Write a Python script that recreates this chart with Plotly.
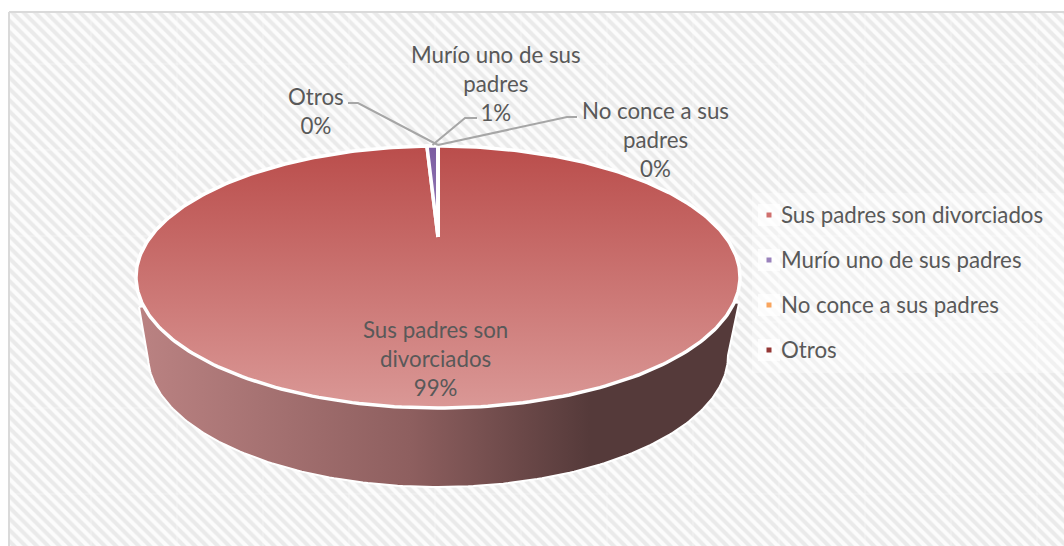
import math
import plotly.graph_objects as go

# ---- data ----
categories = ["Sus padres son divorciados", "Murío uno de sus padres", "No conce a sus padres", "Otros"]
shares = [99.2, 0.8, 0.0, 0.0]
slice_labels = ["Sus padres son<br>divorciados", "Murío uno de sus<br>padres", "No conce a sus<br>padres", "Otros"]
legend_colors = ["#D0706E", "#9A82BC", "#F9A55E", "#953735"]

W, H = 1064, 546
FONT = "Lato"
TEXT = "#595959"
FS = 22.3

# projective view of the pie disc
APEX_X, APEX_Y = 438.0, 237.0
TOP_Y, BOTTOM_Y = 146.0, 408.0
HALF_W = 302.0
up, down = APEX_Y - TOP_Y, BOTTOM_Y - APEX_Y
k = (down - up) / (down + up)
A = up * (1 + k)
B = HALF_W * math.sqrt(1 - k * k)


def project(frac):
    """frac = clockwise fraction of the circle from 12 o'clock"""
    t = 2 * math.pi * frac
    u, v = math.sin(t), math.cos(t)
    d = 1 + k * v
    return APEX_X + B * u / d, APEX_Y - A * v / d


def wedge(f0, f1):
    n = max(2, int(abs(f1 - f0) * 360))
    pts = [project(f0 + (f1 - f0) * i / n) for i in range(n + 1)]
    xs = [APEX_X] + [p[0] for p in pts] + [APEX_X]
    ys = [APEX_Y] + [p[1] for p in pts] + [APEX_Y]
    return xs, ys


fig = go.Figure()

# background panel
fig.add_trace(go.Scatter(
    x=[9, W + 5, W + 5, 9, 9], y=[12, 12, H + 5, H + 5, 12], mode="lines", fill="toself",
    line=dict(color="#DADADA", width=2), fillcolor="#F7F7F7",
    fillpattern=dict(shape="\\", size=8, solidity=0.5, fgcolor="#D8D8D8", bgcolor="#FCFCFC"),
    showlegend=False, hoverinfo="skip"))

# faint tile seams of the texture
sx, sy = [], []
for gx in range(91, W, 86):
    sx += [gx, gx, None]
    sy += [13, H, None]
for gy in range(64, H, 86):
    sx += [10, W, None]
    sy += [gy, gy, None]
fig.add_trace(go.Scatter(x=sx, y=sy, mode="lines", line=dict(color="rgba(255,255,255,0.4)", width=1),
                         showlegend=False, hoverinfo="skip"))

# pale backing of the legend
fig.add_trace(go.Scatter(x=[752, W + 5, W + 5, 752, 752], y=[193, 193, 373, 373, 193], mode="lines", fill="toself",
                         line=dict(width=0), fillcolor="rgba(255,255,255,0.35)", showlegend=False, hoverinfo="skip"))

# side wall of the pie
LOW_CX, LOW_CY, LOW_RX, LOW_RY = 438.0, 355.5, 290.0, 131.5
side_x, side_y = [], []
for i in range(0, 181):
    a = math.radians(180 - i)
    side_x.append(LOW_CX + LOW_RX * math.cos(a))
    side_y.append(LOW_CY + LOW_RY * math.sin(a))
side_x = [139] + side_x + [739]
side_y = [307] + side_y + [303]
side_x += [600, 438, 280, 139]
side_y += [280, 280, 280, 307]
fig.add_trace(go.Scatter(
    x=side_x, y=side_y, mode="lines", fill="toself",
    line=dict(color="#FFFFFF", width=2),
    fillgradient=dict(type="horizontal", start=140, stop=740,
                      colorscale=[[0, "#BA8282"], [0.45, "#8E5F5F"], [0.75, "#553A3A"], [1, "#553A3A"]]),
    showlegend=False, hoverinfo="skip"))

# top surface
fills = [dict(type="vertical", start=TOP_Y, stop=BOTTOM_Y, colorscale=[[0, "#BA4D4B"], [1, "#DA9896"]]),
         dict(type="vertical", start=TOP_Y, stop=APEX_Y, colorscale=[[0, "#7A5BA0"], [1, "#9A82BC"]]),
         None, None]
total = sum(shares)
cum = 0.0
mids = []
for i, (c, s) in enumerate(zip(categories, shares)):
    f0, f1 = cum / total, (cum + s) / total
    mids.append((f0 + f1) / 2)
    cum += s
    xs, ys = wedge(f0, f1)
    kw = dict(fill="toself", fillgradient=fills[i]) if fills[i] else {}
    fig.add_trace(go.Scatter(x=xs, y=ys, mode="lines", line=dict(color="#FFFFFF", width=3.5),
                             name=c, showlegend=False, hoverinfo="skip", **kw))

# leader lines: label side -> elbow -> slice
leaders = {1: [(477, 118), (465, 118)], 2: [(577, 117), (567, 117)], 3: [(348, 103), (358, 103)]}
for i, pts in leaders.items():
    ex, ey = project(mids[i])
    ey -= 1
    fig.add_trace(go.Scatter(x=[p[0] for p in pts] + [ex], y=[p[1] for p in pts] + [ey], mode="lines",
                             line=dict(color="#A6A6A6", width=2), showlegend=False, hoverinfo="skip"))

# slice labels
label_pos = {0: (435, 358), 1: (496, 83), 2: (655, 139.5), 3: (315.5, 110.5)}
for i, (lx, ly) in label_pos.items():
    pct = f"{round(shares[i] / total * 100)}%"
    fig.add_annotation(x=lx, y=ly, text=f"{slice_labels[i]}<br>{pct}", showarrow=False, align="center",
                       xanchor="center", yanchor="middle", font=dict(family=FONT, size=FS, color=TEXT))

# legend
legend_y = [215 + 45 * i for i in range(len(categories))]
fig.add_trace(go.Scatter(x=[769] * 4, y=legend_y, mode="markers",
                         marker=dict(symbol="square", size=22, color="rgba(255,255,255,0.7)", line=dict(width=0)),
                         showlegend=False, hoverinfo="skip"))
fig.add_trace(go.Scatter(x=[769] * 4, y=legend_y, mode="markers",
                         marker=dict(symbol="square", size=5, color=legend_colors, line=dict(width=0)),
                         showlegend=False, hoverinfo="skip"))
for c, ly in zip(categories, legend_y):
    fig.add_annotation(x=779, y=ly - 1, text=c, showarrow=False, xanchor="left", yanchor="middle",
                       font=dict(family=FONT, size=FS, color=TEXT))

fig.update_layout(
    width=W, height=H, margin=dict(l=0, r=0, t=0, b=0), showlegend=False,
    paper_bgcolor="#FFFFFF", plot_bgcolor="#FFFFFF",
    xaxis=dict(range=[0, W], visible=False, fixedrange=True),
    yaxis=dict(range=[H, 0], visible=False, fixedrange=True),
)
fig.write_html("out.html", post_script="document.body.style.margin='0';", config={"displayModeBar": False})
